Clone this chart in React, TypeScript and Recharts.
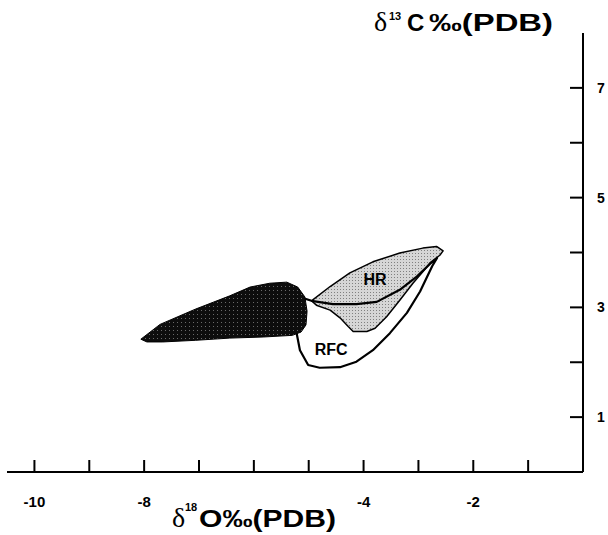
import React from 'react';
import { ScatterChart, Scatter, XAxis, YAxis, ReferenceDot, Label } from 'recharts';

// Dark field (unlabelled)
const darkX = [-8.06, -7.71, -7.06, -6.44, -6.07, -5.71, -5.40, -5.20, -5.07, -5.03, -5.05, -5.14, -5.30, -5.83, -6.44, -7.06, -7.66, -7.95];
const darkY = [2.42, 2.69, 2.97, 3.21, 3.37, 3.44, 3.46, 3.37, 3.19, 2.93, 2.68, 2.55, 2.49, 2.46, 2.44, 2.40, 2.37, 2.37];

// HR field
const hrX = [-4.95, -4.61, -4.25, -3.83, -3.34, -2.92, -2.67, -2.55, -2.61, -2.79, -2.92, -3.10, -3.34, -3.58, -3.79, -3.94, -4.19, -4.28, -4.43, -4.61, -4.86];
const hrY = [3.12, 3.38, 3.63, 3.83, 3.99, 4.08, 4.11, 4.03, 3.95, 3.81, 3.65, 3.44, 3.13, 2.83, 2.62, 2.56, 2.56, 2.65, 2.81, 2.95, 3.04];

// RFC field
const rfcX = [-5.23, -4.95, -4.56, -4.13, -3.76, -3.34, -3.03, -2.79, -2.66, -2.75, -2.97, -3.21, -3.52, -3.83, -4.13, -4.43, -4.80, -5.01, -5.16, -5.22, -5.21];
const rfcY = [3.21, 3.12, 3.06, 3.06, 3.10, 3.32, 3.56, 3.79, 3.90, 3.75, 3.29, 2.90, 2.53, 2.22, 2.01, 1.91, 1.90, 1.95, 2.22, 2.53, 2.86];

const fieldNames = ['HR', 'RFC'];
const fieldLabelX = [-3.79, -4.59];
const fieldLabelY = [3.52, 2.24];

const xTicks = [-10, -9, -8, -7, -6, -5, -4, -3, -2, -1];
const xTickLabels = ['-10', '', '-8', '', '', '', '-4', '', '-2', ''];
const yTicks = [1, 2, 3, 4, 5, 6, 7];
const yTickLabels = ['1', '', '3', '', '5', '', '7'];

const toPts = (xs: number[], ys: number[]) => xs.map((x, i) => ({ x, y: ys[i] }));
const darkData = toPts(darkX, darkY);
const hrData = toPts(hrX, hrY);
const rfcData = toPts(rfcX, rfcY);

const SANS = '"Liberation Sans", Arial, sans-serif';
const SERIF = '"Liberation Serif", "Times New Roman", serif';

const polygon = (fill: string, stroke: string, strokeWidth: number, closed = true) => (props: any) => {
  const pts = props.points || [];
  if (!pts.length) return <g />;
  const d = pts.map((p: any, i: number) => `${i ? 'L' : 'M'}${p.x},${p.y}`).join(' ') + (closed ? ' Z' : '');
  return (
    <g>
      <defs>
        <pattern id="stipLight" width="3" height="3" patternUnits="userSpaceOnUse">
          <rect width="3" height="3" fill="#d6d6d6" />
          <rect x="1" y="1" width="1" height="1" fill="#808080" />
        </pattern>
        <pattern id="stipDark" width="4" height="4" patternUnits="userSpaceOnUse">
          <rect width="4" height="4" fill="#0d0d0d" />
          <rect x="1" y="2" width="1" height="1" fill="#6a6a6a" />
        </pattern>
      </defs>
      <path d={d} fill={fill} stroke={stroke} strokeWidth={strokeWidth} strokeLinejoin="round" />
    </g>
  );
};

const noDot = () => <g />;

const XTick = (props: any) => {
  const { x, y, payload } = props;
  const i = xTicks.indexOf(payload.value);
  return (
    <g>
      <line x1={x} x2={x} y1={y - 12} y2={y} stroke="#000" strokeWidth={2} />
      <text x={x} y={y + 35} textAnchor="middle" fontSize={15} fontWeight="bold" fontFamily={SANS} fill="#000">
        {xTickLabels[i]}
      </text>
    </g>
  );
};

const YTick = (props: any) => {
  const { x, y, payload } = props;
  const i = yTicks.indexOf(payload.value);
  return (
    <g>
      <line x1={x - 13} x2={x} y1={y} y2={y} stroke="#000" strokeWidth={2} />
      <text x={x + 14} y={y + 5} textAnchor="start" fontSize={14} fontWeight="bold" fontFamily={SANS} fill="#000">
        {yTickLabels[i]}
      </text>
    </g>
  );
};

const XTitle = () => (
  <g>
    <text x={172} y={527} fontFamily={SERIF} fontSize={28} fill="#000">δ</text>
    <text x={185} y={511} fontFamily={SANS} fontWeight="bold" fontSize={11} fill="#000">18</text>
    <text x={199} y={527} fontFamily={SANS} fontWeight="bold" fontSize={24} fill="#000" textLength={137} lengthAdjust="spacingAndGlyphs">O‰(PDB)</text>
  </g>
);

const YTitle = () => (
  <g>
    <text x={374} y={31} fontFamily={SERIF} fontSize={28} fill="#000">δ</text>
    <text x={389} y={20} fontFamily={SANS} fontWeight="bold" fontSize={11} fill="#000">13</text>
    <text x={407} y={31} fontFamily={SANS} fontWeight="bold" fontSize={24} fill="#000">C</text>
    <text x={429} y={31} fontFamily={SANS} fontWeight="bold" fontSize={24} fill="#000" textLength={124} lengthAdjust="spacingAndGlyphs">‰(PDB)</text>
  </g>
);

export default function App() {
  return (
    <div style={{ position: 'absolute', left: 0, top: 0, background: '#fff' }}>
      <ScatterChart width={608} height={535} margin={{ top: 33, right: 0, bottom: 0, left: 7 }}>
        <XAxis
          type="number"
          dataKey="x"
          domain={[-10.5, 0]}
          ticks={xTicks}
          interval={0}
          height={63}
          tickLine={false}
          tickSize={0}
          tickMargin={0}
          tick={<XTick />}
          axisLine={{ stroke: '#000', strokeWidth: 2 }}
          allowDataOverflow
        >
          <Label content={<XTitle />} />
        </XAxis>
        <YAxis
          type="number"
          dataKey="y"
          orientation="right"
          domain={[0, 8]}
          ticks={yTicks}
          interval={0}
          width={25}
          tickLine={false}
          tickSize={0}
          tickMargin={0}
          tick={<YTick />}
          axisLine={{ stroke: '#000', strokeWidth: 2 }}
          allowDataOverflow
        >
          <Label content={<YTitle />} />
        </YAxis>
        <Scatter data={rfcData} isAnimationActive={false} shape={noDot} line={polygon('#fff', 'none', 0)} />
        <Scatter data={hrData} isAnimationActive={false} shape={noDot} line={polygon('url(#stipLight)', '#000', 1.5)} />
        <Scatter data={rfcData} isAnimationActive={false} shape={noDot} line={polygon('none', '#000', 2.2)} />
        <Scatter data={darkData} isAnimationActive={false} shape={noDot} line={polygon('url(#stipDark)', '#000', 1)} />
        {fieldNames.map((n, i) => (
          <ReferenceDot
            key={n}
            x={fieldLabelX[i]}
            y={fieldLabelY[i]}
            r={0}
            fill="none"
            stroke="none"
            label={{ value: n, position: 'center', fill: '#000', fontSize: 16, fontWeight: 'bold', fontFamily: SANS }}
          />
        ))}
      </ScatterChart>
    </div>
  );
}
